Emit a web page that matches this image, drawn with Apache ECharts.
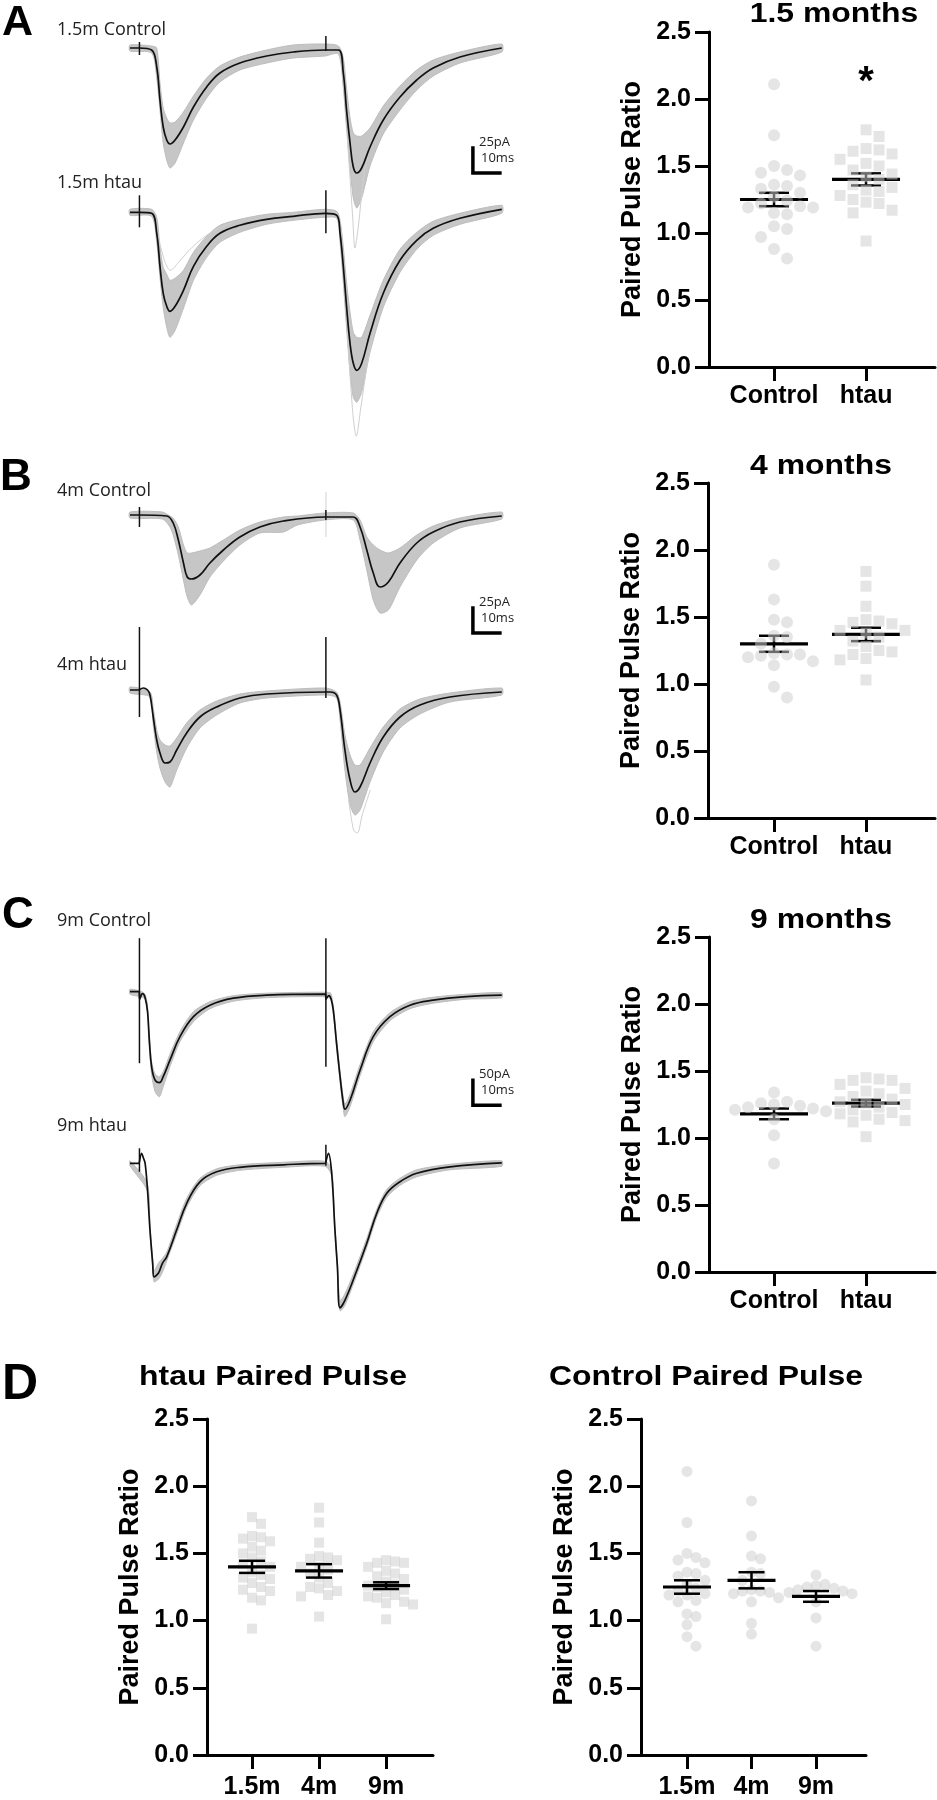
<!DOCTYPE html>
<html>
<head>
<meta charset="utf-8">
<title>Paired pulse ratio</title>
<script src="https://cdn.jsdelivr.net/npm/echarts@6.0.0/dist/echarts.min.js"></script>
<style>
  html, body { margin: 0; padding: 0; background: #fff; }
  #main { width: 937px; height: 1800px; }
</style>
</head>
<body>
<div id="main"></div>
<script type="text/javascript">
// paired pulse ratio, one value per cell
var ctrl15 = [2.11, 1.73, 1.50, 1.47, 1.45, 1.43, 1.36, 1.35, 1.33, 1.30, 1.27, 1.24, 1.22, 1.20, 1.19, 1.19, 1.15, 1.14, 1.05, 1.03, 0.97, 0.88, 0.81];
var htau15 = [1.77, 1.72, 1.63, 1.62, 1.61, 1.59, 1.55, 1.52, 1.50, 1.47, 1.44, 1.42, 1.40, 1.36, 1.34, 1.32, 1.31, 1.28, 1.25, 1.23, 1.22, 1.17, 1.15, 0.94];
var ctrl4 = [1.89, 1.63, 1.48, 1.46, 1.36, 1.35, 1.30, 1.23, 1.22, 1.22, 1.21, 1.20, 1.17, 1.14, 0.98, 0.90];
var htau4 = [1.84, 1.73, 1.58, 1.48, 1.47, 1.46, 1.45, 1.40, 1.40, 1.38, 1.35, 1.32, 1.28, 1.25, 1.24, 1.22, 1.19, 1.18, 1.03];
var ctrl9 = [1.34, 1.27, 1.26, 1.25, 1.24, 1.23, 1.22, 1.21, 1.20, 1.14, 1.02, 0.81];
var htau9 = [1.45, 1.44, 1.43, 1.43, 1.40, 1.37, 1.35, 1.33, 1.31, 1.29, 1.27, 1.26, 1.25, 1.23, 1.21, 1.19, 1.18, 1.17, 1.14, 1.13, 1.12, 1.01];

// mean +- sem as drawn (1.5m, 4m, 9m)
var ctrlMean = [1.25, 1.30, 1.18];
var ctrlSem = [0.05, 0.06, 0.04];
var htauMean = [1.40, 1.37, 1.26];
var htauSem = [0.045, 0.05, 0.025];

var groupNames = ['Control', 'htau'];
var ageNames = ['1.5m', '4m', '9m'];
var ageTitles = ['1.5 months', '4 months', '9 months'];
var yTicks = [0, 0.5, 1.0, 1.5, 2.0, 2.5];
var sigStars = [[1, 2.18]];   // [group, ratio] of the * in panel A

// example traces: [ms, pA] average, [ms, low, high] spread of sweeps, [ms, top, bottom] stimulus artifacts
var aCtrlMean = [[0,0],[3.4,0],[3.6,0],[8.0,-2],[9.9,-19],[11.1,-52],[12.3,-79],[13.6,-92],[14.8,-96],[16.7,-92],[19.8,-79],[23.5,-59],[28.4,-39],[33.3,-25],[40.7,-15],[50.6,-8],[60.5,-4],[72.4,-2],[72.6,-2],[77.2,-2],[79.0,-25],[80.2,-62],[81.5,-95],[82.7,-119],[84.0,-125],[85.8,-120],[88.9,-99],[93.8,-72],[100,-49],[106.2,-32],[112.3,-20],[122.2,-9],[137.7,0]];
var aCtrlBand = [[0,-3,3],[8,-5,2],[9.9,-30,0],[11.1,-62,-35],[12.3,-95,-60],[13.6,-112,-70],[14.8,-120,-75],[16.7,-115,-74],[19.8,-95,-64],[23.5,-72,-48],[28.4,-50,-30],[33.3,-34,-18],[40.7,-22,-9],[50.6,-15,-2],[60.5,-10,3],[72.2,-8,4],[77.2,-6,2],[79,-40,-10],[80.2,-80,-40],[81.5,-120,-70],[82.7,-150,-85],[84,-160,-88],[85.8,-150,-88],[88.9,-118,-80],[93.8,-86,-58],[100,-62,-38],[106.2,-42,-22],[112.3,-28,-12],[122.2,-15,-4],[137.7,-4,4]];
var aCtrlFaint = [[[80.5,-90],[82.5,-170],[83.3,-200],[84.5,-180],[87,-120],[90,-90]]];
var aCtrlStim = [[3.5,6,-7],[72.55,12,-3]];

var aHtauMean = [[0,0],[3.4,0],[3.6,0],[8.0,-1],[9.9,-21],[11.1,-54],[12.3,-81],[13.6,-94],[14.8,-99],[16.7,-94],[19.8,-78],[23.5,-54],[28.4,-34],[33.3,-21],[40.7,-13],[50.6,-7],[60.5,-4],[72.4,-1],[72.6,-1],[76.6,-3],[77.8,-21],[79.0,-54],[80.2,-94],[81.5,-131],[82.7,-151],[84.0,-158],[85.8,-151],[88.9,-121],[93.8,-81],[100,-48],[106.2,-28],[112.3,-16],[122.2,-6],[137.7,3]];
var aHtauBand = [[0,-3,3],[8,-4,3],[9.9,-30,-5],[11.1,-65,-35],[12.3,-95,-55],[13.6,-115,-62],[14.8,-125,-68],[16.7,-118,-66],[19.8,-96,-58],[23.5,-68,-40],[28.4,-45,-24],[33.3,-30,-13],[40.7,-20,-7],[50.6,-12,-2],[60.5,-8,0],[72.2,-5,3],[76.6,-6,1],[77.8,-30,-8],[79,-70,-35],[80.2,-115,-70],[81.5,-160,-100],[82.7,-185,-120],[84,-190,-125],[85.8,-180,-125],[88.9,-140,-103],[93.8,-95,-68],[100,-60,-37],[106.2,-37,-20],[112.3,-23,-9],[122.2,-12,-1],[137.7,-1,7]];
var aHtauFaint = [[[10.5,-25],[13,-50],[15,-58],[18,-50],[23,-35],[30,-20],[38,-10]], [[80.5,-120],[82.5,-200],[83.8,-224],[85.5,-195],[88,-150],[91,-110]]];
var aHtauStim = [[3.5,17,-15],[72.55,22,-21]];

var bCtrlMean = [[0,0],[3.4,0],[3.6,0],[13.6,-1],[16.0,-8],[17.9,-25],[19.8,-48],[21.2,-62],[22.8,-64],[25.9,-60],[29.6,-48],[34.6,-35],[40.7,-22],[48.1,-12],[56.8,-6],[72.4,-2],[72.6,-2],[82.7,-2],[85.2,-12],[87.7,-35],[90.1,-58],[92.6,-72],[95.7,-67],[100,-48],[106.2,-28],[112.3,-17],[122.2,-7],[137.7,-1]];
var bCtrlBand = [[0,-3,3],[12,-4,3],[14.8,-12,-1],[16,-20,-3],[17.9,-40,-12],[19.8,-65,-30],[21.2,-82,-38],[22.8,-90,-38],[25.9,-80,-36],[29.6,-62,-33],[34.6,-46,-25],[40.7,-30,-15],[48.1,-18,-7],[56.8,-17,-2],[62,-10,-1],[72.2,-5,2],[82.7,-5,2],[85.2,-25,-5],[87.7,-55,-22],[90.1,-85,-30],[92.6,-98,-35],[95.7,-95,-38],[100,-72,-33],[106.2,-45,-20],[112.3,-28,-11],[122.2,-13,-3],[137.7,-4,3]];
var bCtrlFaint = [[[72.58,23],[72.58,-22]]];
var bCtrlStim = [[3.5,8,-12],[72.55,5,-5]];

var bHtauMean = [[0,0],[3.4,0],[3.6,0],[4.9,2],[6.5,0],[7.4,-5],[8.6,-27],[9.9,-50],[11.1,-63],[13.0,-73],[14.8,-72],[17.3,-60],[21.0,-43],[25.9,-27],[32.1,-17],[40.7,-8],[50.6,-4],[72.4,-2],[72.6,-2],[74.1,-2],[76.5,-5],[77.8,-20],[79.6,-60],[81.5,-90],[83.3,-102],[85.2,-97],[88.9,-73],[93.8,-47],[100,-27],[107.4,-15],[118.5,-7],[137.7,-2]];
var bHtauBand = [[0,-3,3],[7.4,-7,-2],[8.6,-35,-18],[9.9,-62,-40],[11.1,-78,-50],[13,-92,-55],[14.8,-97,-56],[17.3,-80,-48],[21,-58,-33],[25.9,-38,-20],[32.1,-25,-11],[40.7,-13,-4],[50.6,-8,-1],[72.2,-5,2],[76.5,-8,-2],[77.8,-30,-12],[79.6,-80,-45],[81.5,-115,-65],[83.3,-125,-75],[85.2,-120,-75],[88.9,-92,-58],[93.8,-62,-37],[100,-38,-19],[107.4,-24,-9],[118.5,-12,-3],[137.7,-5,2]];
var bHtauFaint = [[[72.58,83],[72.58,50]], [[81,-110],[82.8,-140],[84.2,-143],[86,-125],[89,-100]]];
var bHtauStim = [[3.5,63,-27],[72.55,53,-8]];

var cCtrlMean = [[0,0],[3.4,0],[3.6,-15],[4.6,-4],[5.6,-12],[6.5,-40],[7.2,-100],[8.0,-150],[9.3,-177],[10.9,-182],[12.3,-170],[14.8,-137],[18.5,-90],[23.5,-50],[29.6,-27],[38.3,-13],[50.6,-7],[72.4,-5],[72.6,-15],[73.6,-8],[74.5,-15],[75.3,-37],[76.5,-103],[77.8,-170],[79.0,-223],[79.6,-235],[81.5,-217],[85.2,-157],[90.1,-90],[96.3,-50],[103.7,-27],[112.3,-17],[124.7,-10],[137.7,-7]];
var cCtrlBand = [[0,-5,5],[5.6,-15,-5],[7.0,-100,-80],[8.0,-165,-140],[9.3,-200,-165],[10.9,-210,-170],[12.3,-190,-160],[14.8,-150,-125],[18.5,-100,-80],[23.5,-60,-40],[29.6,-34,-20],[38.3,-19,-8],[50.6,-12,-3],[72.2,-10,-1],[74.5,-16,-4],[76.5,-112,-95],[77.8,-180,-160],[79,-235,-212],[79.6,-250,-225],[81.5,-230,-205],[85.2,-168,-146],[90.1,-100,-80],[96.3,-58,-42],[103.7,-34,-20],[112.3,-23,-11],[124.7,-15,-5],[137.7,-12,-2]];
var cCtrlFaint = [];
var cCtrlStim = [[3.5,107,-143],[72.55,107,-150]];

var cHtauMean = [[0,0],[3.4,0],[3.6,0],[4.3,20],[5.0,10],[5.6,0],[6.4,-47],[7.4,-133],[8.4,-200],[8.9,-227],[10.5,-220],[12.0,-200],[13.6,-187],[17.3,-133],[21.0,-80],[25.9,-37],[32.1,-17],[40.7,-8],[56.8,-3],[72.4,0],[72.6,0],[73.5,20],[74.7,-20],[75.9,-133],[76.8,-205],[77.8,-289],[79.5,-275],[82.7,-233],[87.7,-160],[91.4,-100],[95.1,-60],[100,-37],[106.2,-20],[118.5,-7],[137.7,1]];
var cHtauBand = [[0,-5,5],[6.4,-55,-40],[7.4,-140,-125],[8.4,-210,-190],[8.9,-237,-215],[10.5,-232,-200],[12,-218,-190],[13.6,-195,-178],[17.3,-142,-122],[21,-88,-70],[25.9,-45,-30],[32.1,-24,-11],[40.7,-14,-3],[56.8,-8,2],[72.2,-6,4],[74.7,-25,-12],[75.9,-140,-125],[76.8,-215,-198],[77.8,-295,-275],[79.5,-285,-262],[82.7,-242,-222],[87.7,-168,-150],[91.4,-108,-92],[95.1,-68,-52],[100,-44,-30],[106.2,-27,-13],[118.5,-13,-2],[137.7,-6,5]];
var cHtauFaint = [];
var cHtauStim = [[3.5,30,-17],[72.55,37,-5]];

// scale bars
var scaleBarsPA = [25, 25, 50];
var scaleBarsMS = [10, 10, 10];

var FONT = '"Liberation Sans", Arial, Helvetica, sans-serif';
var TFONT = '"Open Sans", "Noto Sans", sans-serif';
var DOT = 'rgba(205,205,205,0.65)';
var T_LEFT = 130, T_MAX = 140, PX_PER_MS = 2.7;

var chart = echarts.init(document.getElementById('main'));
var grids = [], xAxes = [], yAxes = [], series = [], texts = [];

function txt(s, x, base, fs, o) {
    o = o || {};
    var fam = o.family || FONT;
    var mid = fam === TFONT ? 0.388 : 0.3465;
    texts.push({
        type: 'text', x: x, y: base - mid * fs, silent: true, scaleX: o.scaleX || 1,
        style: {
            text: s, fontSize: fs, fontFamily: fam, fontWeight: o.weight || 'normal',
            fill: o.color || '#000', align: o.align || 'left', verticalAlign: 'middle'
        }
    });
}

// ---- example traces ----
var traces = [
    {mean: aCtrlMean, band: aCtrlBand, faint: aCtrlFaint, stim: aCtrlStim, base: 48, pxPerPA: 1, label: '1.5m Control', lb: 37, bar: 0, barTop: -100},
    {mean: aHtauMean, band: aHtauBand, faint: aHtauFaint, stim: aHtauStim, base: 212.3, pxPerPA: 1, label: '1.5m htau', lb: 190},
    {mean: bCtrlMean, band: bCtrlBand, faint: bCtrlFaint, stim: bCtrlStim, base: 515, pxPerPA: 1, label: '4m Control', lb: 498, bar: 1, barTop: -93},
    {mean: bHtauMean, band: bHtauBand, faint: bHtauFaint, stim: bHtauStim, base: 690, pxPerPA: 1, label: '4m htau', lb: 672},
    {mean: cCtrlMean, band: cCtrlBand, faint: cCtrlFaint, stim: cCtrlStim, base: 991.7, pxPerPA: 0.5, label: '9m Control', lb: 928, bar: 2, barTop: -177},
    {mean: cHtauMean, band: cHtauBand, faint: cHtauFaint, stim: cHtauStim, base: 1163.3, pxPerPA: 0.5, label: '9m htau', lb: 1133}
];

traces.forEach(function (tr, i) {
    grids.push({left: T_LEFT, top: tr.base - 40, width: T_MAX * PX_PER_MS, height: 300});
    xAxes.push({gridIndex: i, type: 'value', min: 0, max: T_MAX, show: false});
    yAxes.push({gridIndex: i, type: 'value', min: -260 / tr.pxPerPA, max: 40 / tr.pxPerPA, show: false});
    var band = tr.band;
    series.push({
        type: 'custom', xAxisIndex: i, yAxisIndex: i, silent: true, z: 1, data: band,
        renderItem: function (params, api) {
            if (params.dataIndex !== 0) return null;
            var pts = [];
            band.forEach(function (p) { pts.push(api.coord([p[0], p[1]])); });
            band.slice().reverse().forEach(function (p) { pts.push(api.coord([p[0], p[2]])); });
            return {type: 'polygon', shape: {points: pts, smooth: 0.25},
                style: {fill: '#c6c6c6', stroke: '#bdbdbd', lineWidth: 1}};
        }
    });
    tr.faint.forEach(function (f) {
        series.push({type: 'line', xAxisIndex: i, yAxisIndex: i, data: f, symbol: 'none', silent: true, z: 1,
            smooth: 0.3, lineStyle: {color: '#cfcfcf', width: 1}});
    });
    series.push({type: 'line', xAxisIndex: i, yAxisIndex: i, data: tr.mean, symbol: 'none', silent: true, z: 3,
        smooth: 0.4, lineStyle: {color: '#111', width: 1.7}});
    series.push({
        type: 'custom', xAxisIndex: i, yAxisIndex: i, silent: true, z: 3, data: tr.stim,
        renderItem: function (params, api) {
            var a = api.coord([api.value(0), api.value(1)]), b = api.coord([api.value(0), api.value(2)]);
            return {type: 'line', shape: {x1: a[0], y1: a[1], x2: b[0], y2: b[1]}, style: {stroke: '#111', lineWidth: 1.5}};
        }
    });
    txt(tr.label, 57, tr.lb, 18, {family: TFONT, color: '#222'});
    if (tr.bar !== undefined) {
        var pa = scaleBarsPA[tr.bar], ms = scaleBarsMS[tr.bar], t0 = 127;
        series.push({type: 'line', xAxisIndex: i, yAxisIndex: i, symbol: 'none', silent: true, z: 4,
            data: [[t0, tr.barTop], [t0, tr.barTop - pa], [t0 + ms, tr.barTop - pa]],
            lineStyle: {color: '#000', width: 3.5, cap: 'square', join: 'miter'}});
        var topPx = tr.base - tr.barTop * tr.pxPerPA;
        txt(pa + 'pA', 479, topPx - 1, 13, {family: TFONT, color: '#222'});
        txt(ms + 'ms', 481, topPx + 15, 13, {family: TFONT, color: '#222'});
    }
});

// ---- paired pulse ratio dot plots ----
function swarm(values, center, p, size, step) {
    var ux = p.grid.width / (p.xMax - p.xMin);
    var uy = p.grid.height / 2.5;
    var placed = [];
    return values.slice().sort(function (a, b) { return b - a; }).map(function (v) {
        for (var k = 0; k < 40; k++) {
            var col = k === 0 ? 0 : (k % 2 ? Math.ceil(k / 2) : -k / 2);
            var clash = placed.some(function (q) { return q.col === col && Math.abs(q.v - v) * uy < size; });
            if (!clash) { placed.push({col: col, v: v}); return [center + col * step / ux, v]; }
        }
        return [center, v];
    });
}

function errRender(halfMean, halfCap) {
    return function (params, api) {
        var x = api.value(0), m = api.value(1), s = api.value(2);
        var c = api.coord([x, m]), hi = api.coord([x, m + s]), lo = api.coord([x, m - s]);
        var st = {stroke: '#000', lineWidth: 2.5};
        return {type: 'group', children: [
            {type: 'line', shape: {x1: c[0] - halfMean, y1: c[1], x2: c[0] + halfMean, y2: c[1]}, style: {stroke: '#000', lineWidth: 3.2}},
            {type: 'line', shape: {x1: c[0], y1: hi[1], x2: c[0], y2: lo[1]}, style: st},
            {type: 'line', shape: {x1: c[0] - halfCap, y1: hi[1], x2: c[0] + halfCap, y2: hi[1]}, style: st},
            {type: 'line', shape: {x1: c[0] - halfCap, y1: lo[1], x2: c[0] + halfCap, y2: lo[1]}, style: st}
        ]};
    };
}

var big = {circle: 12, rect: 11, step: 13, halfMean: 34, halfCap: 15, xMargin: 17, onTop: true};
var small = {circle: 11, rect: 10, step: 9, halfMean: 24, halfCap: 13, xMargin: 20, onTop: false};

var panels = [
    {grid: {left: 709, top: 32, width: 226, height: 335}, xMin: -0.707, xMax: 1.75, names: groupNames, st: big,
        sets: [[ctrl15, 'circle'], [htau15, 'rect']], stats: [[0, ctrlMean[0], ctrlSem[0]], [1, htauMean[0], htauSem[0]]],
        title: ageTitles[0], tx: 834, tb: 24, stars: sigStars},
    {grid: {left: 708, top: 483, width: 227, height: 335}, xMin: -0.717, xMax: 1.75, names: groupNames, st: big,
        sets: [[ctrl4, 'circle'], [htau4, 'rect']], stats: [[0, ctrlMean[1], ctrlSem[1]], [1, htauMean[1], htauSem[1]]],
        title: ageTitles[1], tx: 821, tb: 476},
    {grid: {left: 709, top: 937, width: 226, height: 335}, xMin: -0.707, xMax: 1.75, names: groupNames, st: big,
        sets: [[ctrl9, 'circle'], [htau9, 'rect']], stats: [[0, ctrlMean[2], ctrlSem[2]], [1, htauMean[2], htauSem[2]]],
        title: ageTitles[2], tx: 821, tb: 930},
    {grid: {left: 207, top: 1419, width: 226, height: 336}, xMin: -0.672, xMax: 2.70, names: ageNames, st: small,
        sets: [[htau15, 'rect'], [htau4, 'rect'], [htau9, 'rect']],
        stats: [[0, htauMean[0], htauSem[0]], [1, htauMean[1], htauSem[1]], [2, htauMean[2], htauSem[2]]],
        title: 'htau Paired Pulse', tx: 273, tb: 1387},
    {grid: {left: 641, top: 1419, width: 225, height: 336}, xMin: -0.713, xMax: 2.775, names: ageNames, st: small,
        sets: [[ctrl15, 'circle'], [ctrl4, 'circle'], [ctrl9, 'circle']],
        stats: [[0, ctrlMean[0], ctrlSem[0]], [1, ctrlMean[1], ctrlSem[1]], [2, ctrlMean[2], ctrlSem[2]]],
        title: 'Control Paired Pulse', tx: 706, tb: 1387}
];

panels.forEach(function (p) {
    var gi = grids.length, st = p.st, names = p.names;
    var cats = names.map(function (n, k) { return k; });
    grids.push(p.grid);
    xAxes.push({
        gridIndex: gi, type: 'value', min: p.xMin, max: p.xMax,
        axisLine: {show: true, onZero: false, lineStyle: {color: '#000', width: 3}},
        axisTick: {show: true, length: 14, customValues: cats, lineStyle: {color: '#000', width: 3}},
        axisLabel: {show: true, margin: st.xMargin, customValues: cats, color: '#000', fontFamily: FONT,
            fontWeight: 'bold', fontSize: 25, formatter: function (v) { return names[Math.round(v)]; }},
        splitLine: {show: false}
    });
    yAxes.push({
        gridIndex: gi, type: 'value', min: 0, max: 2.5, interval: 0.5,
        name: 'Paired Pulse Ratio', nameLocation: 'middle', nameGap: 63, nameRotate: 90,
        nameTextStyle: {color: '#000', fontFamily: FONT, fontWeight: 'bold', fontSize: 27},
        axisLine: {show: true, onZero: false, lineStyle: {color: '#000', width: 3}},
        axisTick: {show: true, length: 14, lineStyle: {color: '#000', width: 3}},
        axisLabel: {margin: 18, color: '#000', fontFamily: FONT, fontWeight: 'bold', fontSize: 25,
            customValues: yTicks, formatter: function (v) { return v.toFixed(1); }},
        splitLine: {show: false}
    });
    p.sets.forEach(function (s, k) {
        series.push({
            type: 'scatter', xAxisIndex: gi, yAxisIndex: gi, silent: true, z: st.onTop ? 4 : 2,
            symbol: s[1], symbolSize: s[1] === 'circle' ? st.circle : st.rect,
            itemStyle: {color: DOT},
            data: swarm(s[0], k, p, s[1] === 'circle' ? st.circle - 1 : st.rect, st.step)
        });
    });
    series.push({
        type: 'custom', xAxisIndex: gi, yAxisIndex: gi, silent: true, z: 3,
        data: p.stats, renderItem: errRender(st.halfMean, st.halfCap)
    });
    if (p.stars) {
        series.push({
            type: 'custom', xAxisIndex: gi, yAxisIndex: gi, silent: true, z: 5, data: p.stars,
            renderItem: function (params, api) {
                var c = api.coord([api.value(0), api.value(1)]);
                return {type: 'text', x: c[0], y: c[1] + 8,
                    style: {text: '*', fontSize: 40, fontWeight: 'bold', fontFamily: FONT, fill: '#000',
                        align: 'center', verticalAlign: 'middle'}};
            }
        });
    }
    txt(p.title, p.tx, p.tb, 28, {weight: 'bold', align: 'center', scaleX: 1.14});
});

// panel letters
txt('A', 2, 38, 43, {weight: 'bold'});
txt('B', 0, 493, 44, {weight: 'bold'});
txt('C', 2, 931, 44, {weight: 'bold'});
txt('D', 2, 1403, 50, {weight: 'bold'});

chart.setOption({
    animation: false,
    backgroundColor: '#fff',
    grid: grids,
    xAxis: xAxes,
    yAxis: yAxes,
    series: series,
    graphic: texts
});
</script>
</body>
</html>
